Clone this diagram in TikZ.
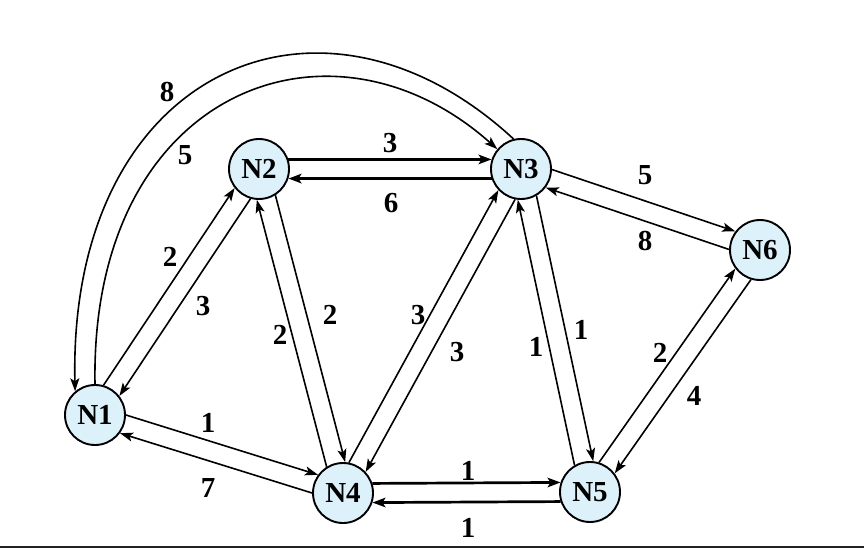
\documentclass[tikz,border=0pt]{standalone}
\usepackage{fontspec}
\setmainfont{Liberation Serif}
\usetikzlibrary{arrows.meta}
\definecolor{nodefill}{HTML}{DDF1FB}
\definecolor{barcol}{HTML}{222222}
\tikzset{
  netnode/.style={circle, draw=black, line width=1.9pt, fill=nodefill, minimum size=60pt, inner sep=0pt,
    font=\fontsize{29}{32}\selectfont\bfseries},
  e/.style={line width=1.6pt, -{Stealth[length=13pt,width=9pt,inset=3pt]}},
  eh/.style={line width=2.7pt, -{Stealth[length=13pt,width=9.5pt,inset=3pt]}},
  lbl/.style={inner sep=0pt, font=\fontsize{29}{32}\selectfont\bfseries}
}
\begin{document}
\begin{tikzpicture}[x=1pt,y=-1pt]
\useasboundingbox (0,0) rectangle (864,548);
\fill[barcol] (0,545.5) rectangle (864,548);
% nodes
\node[netnode] (N1) at (95,415) {N1};
\node[netnode] (N2) at (259,169) {N2};
\node[netnode] (N3) at (521,169) {N3};
\node[netnode] (N4) at (343,493) {N4};
\node[netnode] (N5) at (590,492) {N5};
\node[netnode] (N6) at (760,250) {N6};
% straight connectors
\draw[e] (N1.74) -- (N2.218);
\draw[e] (N2.254) -- (N1.38);
\draw[e] (N1.0) -- (N4.144);
\draw[e] (N4.180) -- (N1.324);
\draw[eh] (N2.18) -- (N3.162);
\draw[eh] (N3.198) -- (N2.342);
\draw[e] (N2.302.5) -- (N4.86.5);
\draw[e] (N4.122.5) -- (N2.266.5);
\draw[e] (N4.79) -- (N3.223);
\draw[e] (N3.259) -- (N4.43);
\draw[e] (N3.300) -- (N5.84);
\draw[e] (N5.120) -- (N3.264);
\draw[e] (N3.359.3) -- (N6.143.3);
\draw[e] (N6.179.3) -- (N3.323.3);
\draw[eh] (N4.18) -- (N5.162);
\draw[eh] (N5.198) -- (N4.342);
\draw[e] (N5.73) -- (N6.217);
\draw[e] (N6.253) -- (N5.37);
% arcs
\draw[e] (N3.104) .. controls (320,-40) and (68,70) .. (N1.130);
\draw[e] (N1.90) .. controls (90,90) and (330,0) .. (N3.140);
% labels
\node[lbl] (l12) at (170,257) {2};
\node[lbl] (l21) at (203,306) {3};
\node[lbl] (l14) at (208,423) {1};
\node[lbl] (l41) at (208,488) {7};
\node[lbl] (l23) at (390,143) {3};
\node[lbl] (l32) at (391,203) {6};
\node[lbl] (l24) at (330,315) {2};
\node[lbl] (l42) at (280,335) {2};
\node[lbl] (l43) at (418,315) {3};
\node[lbl] (l34) at (457,352) {3};
\node[lbl] (l35) at (581,330) {1};
\node[lbl] (l53) at (536,347) {1};
\node[lbl] (l36) at (645,175) {5};
\node[lbl] (l63) at (645,241) {8};
\node[lbl] (l45) at (468,471) {1};
\node[lbl] (l54) at (468,528) {1};
\node[lbl] (l56) at (660,353) {2};
\node[lbl] (l65) at (694,396) {4};
\node[lbl] (l31) at (167,92) {8};
\node[lbl] (l13) at (185,155) {5};
\end{tikzpicture}
\end{document}
